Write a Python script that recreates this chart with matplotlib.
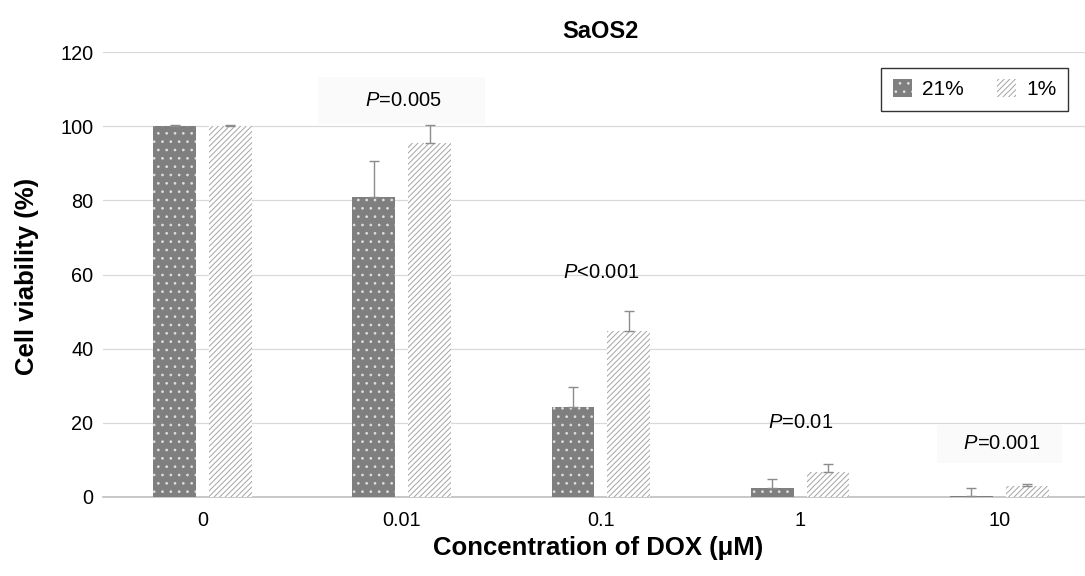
import numpy as np
import matplotlib
matplotlib.use('Agg')
import matplotlib.pyplot as plt
from matplotlib.patches import Patch

plt.rcParams['font.family'] = ['Liberation Sans', 'DejaVu Sans']
plt.rcParams['mathtext.fontset'] = 'custom'
plt.rcParams['mathtext.rm'] = 'Liberation Sans'
plt.rcParams['mathtext.it'] = 'Liberation Sans:italic'
plt.rcParams['hatch.linewidth'] = 0.7

########################################################## data
concentrations = ['0', '0.01', '0.1', '1', '10']
viability_21 = [100, 81, 24.2, 2.5, 0.3]
error_21 = [0.2, 9.5, 5.4, 2.4, 2.0]
viability_1 = [100, 95.5, 44.7, 6.8, 2.9]
error_1 = [0.3, 4.7, 5.5, 2.1, 0.7]
p_labels = ['', '$P$=0.005', '$P$<0.001', '$P$=0.01', '$P$=0.001']
p_heights = [0, 107, 60.5, 20, 14.3]

########################################################## figure
fig = plt.figure(figsize=(10.85, 5.76), dpi=100)
ax = fig.add_axes([103 / 1085, 1 - 497 / 576, (1085 - 103) / 1085, (497 - 52) / 576])

x = np.arange(len(concentrations))
width = 0.215
offset = 0.14

dark = '#7f7f7f'
light = '#a4a4a4'

ax.bar(x - offset, viability_21, width, color=dark, edgecolor='#e0e0e0', hatch='..',
       linewidth=0, zorder=3)
ax.bar(x + offset, viability_1, width, color='white', edgecolor=light, hatch='//////',
       linewidth=0, zorder=3)

ax.errorbar(x - offset, viability_21, yerr=[np.zeros(len(x)), error_21], fmt='none',
            ecolor='#8c8c8c', elinewidth=1, capsize=3.5, capthick=1, zorder=4)
ax.errorbar(x + offset, viability_1, yerr=[np.zeros(len(x)), error_1], fmt='none',
            ecolor='#8c8c8c', elinewidth=1, capsize=3.5, capthick=1, zorder=4)

# p-value annotations (faint boxes behind two of them like the original)
for i in range(len(concentrations)):
    if p_labels[i] == '':
        continue
    label = p_labels[i]
    box = None
    if i == 1:
        label = '      ' + label + '      '
        box = dict(facecolor='#fafafa', edgecolor='none', pad=10)
    if i == 4:
        label = '   ' + label + '   '
        box = dict(facecolor='#fafafa', edgecolor='none', pad=7)
    ax.text(x[i], p_heights[i], label, ha='center', va='center', fontsize=14.5,
            color='black', bbox=box, zorder=2)

ax.set_xlim(-0.5, 4.43)
ax.set_ylim(0, 120)
ax.set_yticks(range(0, 121, 20))
ax.set_xticks(x)
ax.set_xticklabels(concentrations)
ax.tick_params(axis='both', length=0, labelsize=14.3, colors='black')
ax.tick_params(axis='x', pad=10)
ax.tick_params(axis='y', pad=7)

ax.yaxis.grid(True, color='#d9d9d9', linewidth=0.9, zorder=0)
ax.set_axisbelow(True)
for side in ['top', 'right', 'left']:
    ax.spines[side].set_visible(False)
ax.spines['bottom'].set_color('#bfbfbf')
ax.spines['bottom'].set_linewidth(1.2)

fig.text(600 / 1085, 1 - 31 / 576, 'SaOS2', ha='center', va='center',
         fontsize=17, fontweight='bold')
fig.text(27 / 1085, 1 - 276 / 576, 'Cell viability (%)', ha='center', va='center',
         rotation=90, fontsize=18.5, fontweight='bold')
fig.text(598 / 1085, 1 - 548 / 576, 'Concentration of DOX (\u03bcM)', ha='center',
         va='center', fontsize=18.5, fontweight='bold')

handles = [Patch(facecolor=dark, edgecolor='#e0e0e0', hatch='..', linewidth=0, label='21%'),
           Patch(facecolor='white', edgecolor=light, hatch='//////', linewidth=0, label='1%')]
leg = ax.legend(handles=handles, loc='upper right', ncol=2, fontsize=15,
                bbox_to_anchor=(1068 / 1085, 1 - 68 / 576), bbox_transform=fig.transFigure,
                frameon=True, fancybox=False, handlelength=0.9, handleheight=0.9,
                columnspacing=1.6, handletextpad=0.5, borderpad=0.55, borderaxespad=0)
leg.get_frame().set_edgecolor('black')
leg.get_frame().set_linewidth(1.0)

fig.savefig('out.png', dpi=100)
